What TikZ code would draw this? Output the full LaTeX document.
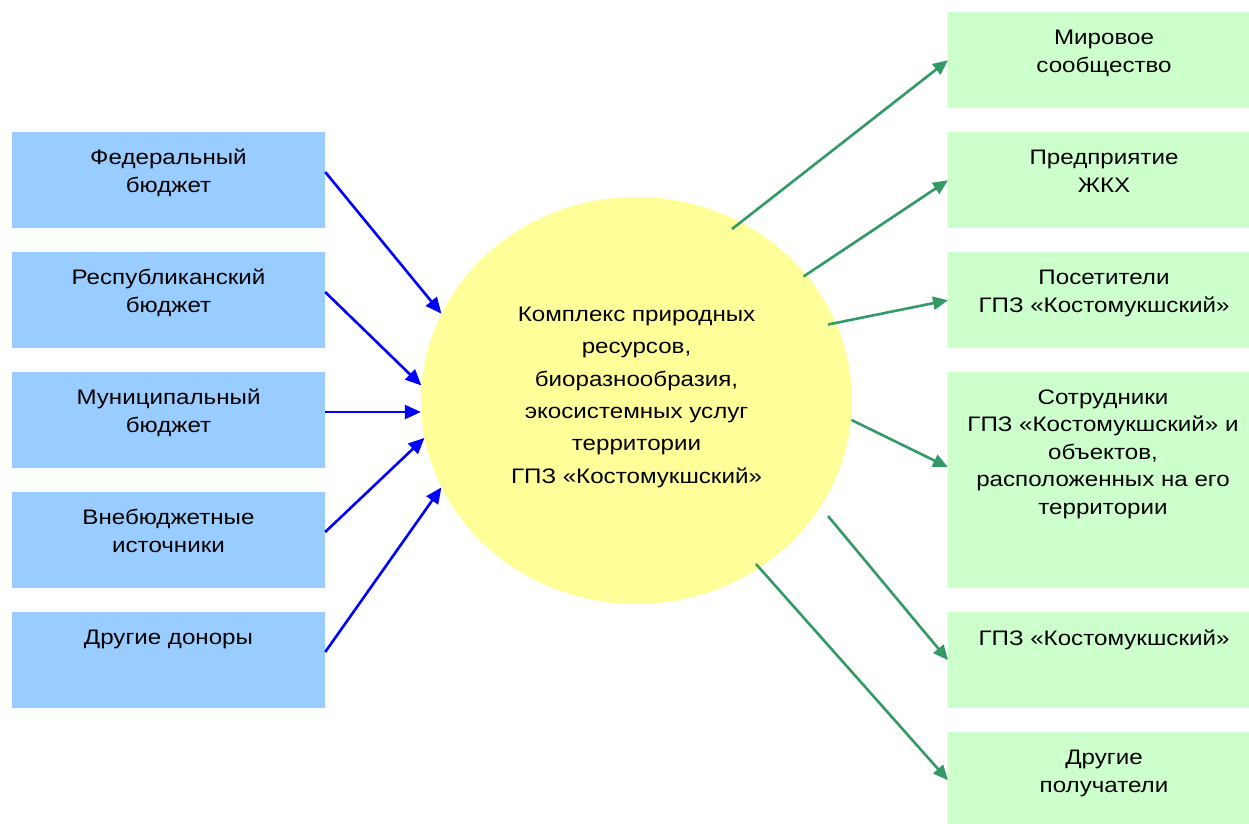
\documentclass[tikz,border=0pt]{standalone}
\usepackage{fontspec}
\setmainfont[FakeStretch=1.15]{Liberation Sans}
\usetikzlibrary{shapes.geometric,arrows.meta,calc}
\definecolor{boxblue}{HTML}{99CCFF}
\definecolor{boxgreen}{HTML}{CCFFCC}
\definecolor{ballyellow}{HTML}{FFFF99}
\definecolor{arrgreen}{HTML}{339966}
\definecolor{arrblue}{HTML}{0000FF}
\tikzset{
  lbox/.style={rectangle, fill=boxblue, draw=none, minimum width=313pt, minimum height=96pt, inner sep=0pt},
  rbox/.style={rectangle, fill=boxgreen, draw=none, minimum width=312pt, minimum height=96pt, inner sep=0pt, anchor=north west},
  boxtxt/.style={align=center, inner sep=0pt, anchor=base, font=\fontsize{21}{27.5}\selectfont},
  balltxt/.style={align=center, inner sep=0pt, anchor=base, font=\fontsize{21}{32.3}\selectfont},
  barrow/.style={draw=arrblue, line width=2.6pt, -{Triangle[length=16pt,width=14pt]}},
  garrow/.style={draw=arrgreen, line width=2.6pt, -{Triangle[length=15pt,width=13pt]}}
}
\begin{document}
\begin{tikzpicture}[x=1pt,y=-1pt]
\useasboundingbox (0,0) rectangle (1249,823);
\clip (0,0) rectangle (1249,823);
% left boxes
\node[lbox] (b1) at (168.5,180) {};
\node[lbox] (b2) at (168.5,300) {};
\node[lbox] (b3) at (168.5,420) {};
\node[lbox] (b4) at (168.5,540) {};
\node[lbox] (b5) at (168.5,660) {};
% anchor=base is the baseline of the last line
\node[boxtxt] (tb1) at (168.5,192) {Федеральный\\бюджет};
\node[boxtxt] (tb2) at (168.5,312) {Республиканский\\бюджет};
\node[boxtxt] (tb3) at (168.5,432) {Муниципальный\\бюджет};
\node[boxtxt] (tb4) at (168.5,552) {Внебюджетные\\источники};
\node[boxtxt] (tb5) at (168.5,644.5) {Другие доноры};
% right boxes
\node[rbox] (r1) at (948,12) {};
\node[rbox] (r2) at (948,132) {};
\node[rbox] (r3) at (948,252) {};
\node[rbox, minimum height=216pt] (r4) at (948,372) {};
\node[rbox] (r5) at (948,612) {};
\node[rbox] (r6) at (948,732) {};
\node[boxtxt] (tr1) at (1104,72) {Мировое\\сообщество};
\node[boxtxt] (tr2) at (1104,192) {Предприятие\\ЖКХ};
\node[boxtxt] (tr3) at (1104,312) {Посетители\\ГПЗ «Костомукшский»};
\node[boxtxt] (tr4) at (1103,514) {Сотрудники\\ГПЗ «Костомукшский» и\\объектов,\\расположенных на его\\территории};
\node[boxtxt] (tr5) at (1104,645) {ГПЗ «Костомукшский»};
\node[boxtxt] (tr6) at (1104,792) {Другие\\получатели};
% central ellipse
\node[ellipse, fill=ballyellow, draw=none, minimum width=431pt, minimum height=407pt, inner sep=0pt] (c) at (636.5,400.5) {};
\node[balltxt] (ct) at (636.5,483) {Комплекс природных\\ресурсов,\\биоразнообразия,\\экосистемных услуг\\территории\\ГПЗ «Костомукшский»};
% blue arrows
\coordinate (s1) at ($(b1.east)+(0,-8)$);
\coordinate (s2) at ($(b2.east)+(0,-8)$);
\coordinate (s3) at ($(b3.east)+(0,-8)$);
\coordinate (s4) at ($(b4.east)+(0,-8)$);
\coordinate (s5) at ($(b5.east)+(0,-8)$);
\draw[barrow] (s1) -- (c.156);
\draw[barrow] (s2) -- (c.176);
\draw[barrow] (s3) -- (s3 -| c.west);
\draw[barrow] (s4) -- (c.190);
\draw[barrow] (s5) -- (c.204);
% green arrows
\coordinate (g1) at ($(c.center)+(95.5,-171.5)$);
\coordinate (g2) at ($(c.center)+(167,-124)$);
\coordinate (g3) at ($(c.center)+(191.5,-76)$);
\coordinate (g4) at ($(c.center)+(215,19.5)$);
\coordinate (g5) at ($(c.center)+(191.5,115.5)$);
\coordinate (g6) at ($(c.center)+(119.5,163.5)$);
\draw[garrow] (g1) -- (r1.west);
\draw[garrow] (g2) -- (r2.west);
\draw[garrow] (g3) -- (r3.west);
\draw[garrow] (g4) -- ($(r4.west)+(0,-13)$);
\draw[garrow] (g5) -- (r5.west);
\draw[garrow] (g6) -- (r6.west);
\end{tikzpicture}
\end{document}
